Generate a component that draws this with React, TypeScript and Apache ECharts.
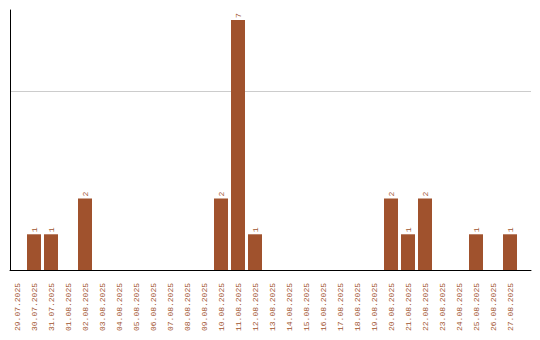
import React, { useEffect, useRef } from "react";
import * as echarts from "echarts";

const dates: string[] = [
  "29.07.2025", "30.07.2025", "31.07.2025", "01.08.2025", "02.08.2025",
  "03.08.2025", "04.08.2025", "05.08.2025", "06.08.2025", "07.08.2025",
  "08.08.2025", "09.08.2025", "10.08.2025", "11.08.2025", "12.08.2025",
  "13.08.2025", "14.08.2025", "15.08.2025", "16.08.2025", "17.08.2025",
  "18.08.2025", "19.08.2025", "20.08.2025", "21.08.2025", "22.08.2025",
  "23.08.2025", "24.08.2025", "25.08.2025", "26.08.2025", "27.08.2025",
];

const counts: number[] = [
  0, 1, 1, 0, 2,
  0, 0, 0, 0, 0,
  0, 0, 2, 7, 1,
  0, 0, 0, 0, 0,
  0, 0, 2, 1, 2,
  0, 0, 1, 0, 1,
];

const yTicks: number[] = [5];

const yMax = 7.28;
const BAR = "#a0522d";
const FONT = "Liberation Mono";

export default function App() {
  const ref = useRef<HTMLDivElement>(null);

  useEffect(() => {
    if (!ref.current) return;
    const chart = echarts.init(ref.current, null, { renderer: "svg" });
    chart.setOption({
      animation: false,
      backgroundColor: "#ffffff",
      grid: [
        // bars and date labels
        { left: 8.5, top: 10, width: 510, height: 260 },
        // frame: axis lines and the gridline, running the full width
        { left: 10, top: 10, width: 521, height: 260 },
      ],
      xAxis: [
        {
          type: "category",
          gridIndex: 0,
          data: dates,
          axisLine: { show: false },
          axisTick: { show: false },
          axisLabel: {
            rotate: 90,
            interval: 0,
            margin: 13,
            color: BAR,
            fontFamily: FONT,
            fontSize: 8,
          },
        },
        {
          type: "value",
          gridIndex: 1,
          min: 0,
          max: 1,
          axisLine: { show: true, lineStyle: { color: "#000", width: 1 } },
          axisTick: { show: false },
          axisLabel: { show: false },
          splitLine: { show: false },
        },
      ],
      yAxis: [
        {
          type: "value",
          gridIndex: 0,
          min: 0,
          max: yMax,
          show: false,
        },
        {
          type: "value",
          gridIndex: 1,
          min: 0,
          max: yMax,
          interval: 5,
          axisLine: { show: true, lineStyle: { color: "#000", width: 1 } },
          axisTick: { show: false },
          axisLabel: { show: false },
          splitLine: {
            show: true,
            showMinLine: false,
            showMaxLine: false,
            lineStyle: { color: "#cccccc", width: 1 },
          },
        },
      ],
      series: [
        {
          type: "bar",
          xAxisIndex: 0,
          yAxisIndex: 0,
          data: counts.map((v) => (v === 0 ? null : v)),
          barWidth: 14,
          itemStyle: { color: BAR },
          label: {
            show: true,
            position: "top",
            rotate: 90,
            align: "left",
            verticalAlign: "middle",
            distance: 2,
            color: BAR,
            fontFamily: FONT,
            fontSize: 8,
          },
        },
      ],
    });

    // y tick labels: rotated text just left of the frame's axis line
    const elements = yTicks.map((t, i) => {
      const raw: any = chart.convertToPixel({ gridIndex: 1 }, [0, t]);
      const px: number[] = Array.isArray(raw) ? raw : [10, Number(raw)];
      if (!isFinite(px[0]) || !isFinite(px[1])) {
        throw new Error("tick position unavailable: " + JSON.stringify(raw));
      }
      return {
        type: "text",
        id: "ytick" + i,
        x: px[0] - 5.5,
        y: px[1] + 2,
        rotation: Math.PI / 2,
        z: 100,
        style: {
          text: String(t),
          fill: "#000000",
          fontSize: 8,
          fontFamily: FONT,
          align: "center",
          verticalAlign: "middle",
        },
      };
    });
    chart.setOption({ graphic: elements });

    return () => chart.dispose();
  }, []);

  return <div ref={ref} style={{ width: 540, height: 340, margin: -8 }} />;
}
